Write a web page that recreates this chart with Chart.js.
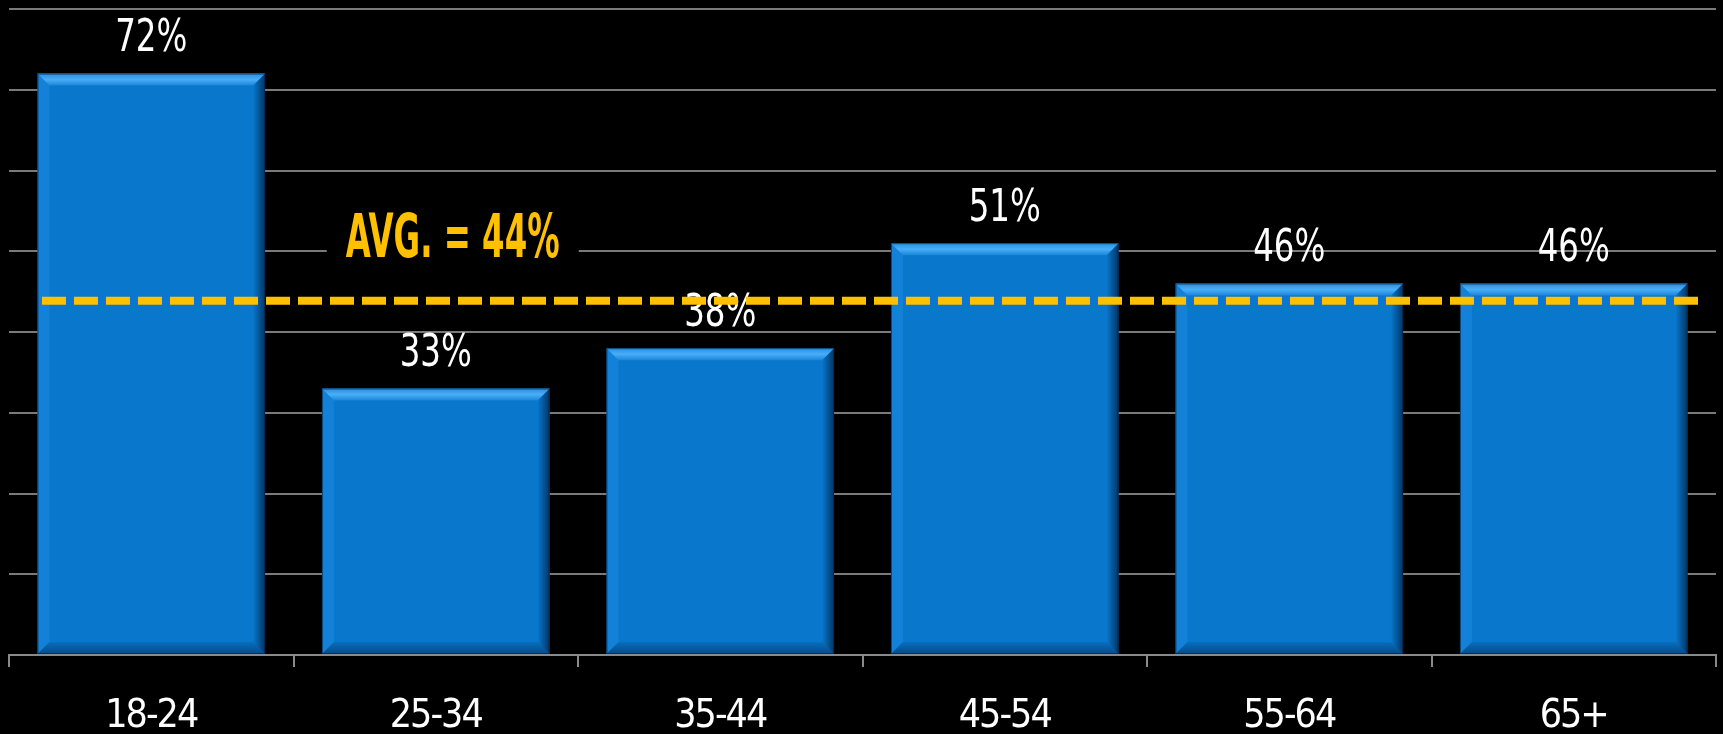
<!DOCTYPE html>
<html lang="en">
<head>
  <meta charset="UTF-8" />
  <title>Share by age group</title>
  <script src="https://cdn.jsdelivr.net/npm/chart.js"></script>
  <style>
    html, body {
      margin: 0;
      padding: 0;
      background: #000;
    }
    .chart-box {
      width: 1723px;
      height: 734px;
    }
  </style>
</head>
<body>
  <div class="chart-box">
    <canvas id="age-chart"></canvas>
  </div>

  <script>
    const ageGroups = ['18-24', '25-34', '35-44', '45-54', '55-64', '65+'];
    const shares = [72, 33, 38, 51, 46, 46];
    const averageShare = 44;
    const averageLabel = 'AVG. = 44%';
    const yMax = 80;
    const yStep = 10;

    const FONT = "'DejaVu Sans Condensed', 'Liberation Sans Narrow', sans-serif";

    // tighter letters for the axis labels (the original face is very narrow)
    const tightText = {
      id: 'tightText',
      beforeDraw(chart) { chart.ctx.letterSpacing = '-2px'; },
      afterDraw(chart) { chart.ctx.letterSpacing = '0px'; }
    };

    // bevelled look on each bar, drawn over the plain fill
    const bevelBars = {
      id: 'bevelBars',
      afterDatasetsDraw(chart) {
        const ctx = chart.ctx;
        const b = 12;
        chart.getDatasetMeta(0).data.forEach(bar => {
          const { x, y, base, width } = bar.getProps(['x', 'y', 'base', 'width'], true);
          const l = x - width / 2, r = x + width / 2, t = y, bt = base;
          ctx.save();

          // left side
          ctx.fillStyle = 'rgba(40, 150, 235, 0.35)';
          ctx.beginPath();
          ctx.moveTo(l, t); ctx.lineTo(l + b, t + b); ctx.lineTo(l + b, bt - b); ctx.lineTo(l, bt);
          ctx.closePath(); ctx.fill();

          // right side shadow
          let g = ctx.createLinearGradient(r - b, 0, r, 0);
          g.addColorStop(0, 'rgba(0, 25, 55, 0)');
          g.addColorStop(1, 'rgba(0, 25, 55, 0.7)');
          ctx.fillStyle = g;
          ctx.beginPath();
          ctx.moveTo(r, t); ctx.lineTo(r - b, t + b); ctx.lineTo(r - b, bt - b); ctx.lineTo(r, bt);
          ctx.closePath(); ctx.fill();

          // bottom
          g = ctx.createLinearGradient(0, bt - b, 0, bt);
          g.addColorStop(0, 'rgba(0, 30, 70, 0.1)');
          g.addColorStop(1, 'rgba(0, 30, 70, 0.5)');
          ctx.fillStyle = g;
          ctx.beginPath();
          ctx.moveTo(l, bt); ctx.lineTo(l + b, bt - b); ctx.lineTo(r - b, bt - b); ctx.lineTo(r, bt);
          ctx.closePath(); ctx.fill();

          // top
          g = ctx.createLinearGradient(0, t, 0, t + b);
          g.addColorStop(0, '#2a8fe0');
          g.addColorStop(0.5, '#48aef8');
          g.addColorStop(1, '#1c85d8');
          ctx.fillStyle = g;
          ctx.beginPath();
          ctx.moveTo(l, t); ctx.lineTo(r, t); ctx.lineTo(r - b, t + b); ctx.lineTo(l + b, t + b);
          ctx.closePath(); ctx.fill();

          ctx.strokeStyle = 'rgba(2, 30, 60, 0.6)';
          ctx.lineWidth = 1;
          ctx.strokeRect(l + 0.5, t + 0.5, width - 1, bt - t - 1);
          ctx.restore();
        });
      }
    };

    // value labels, then the average line and its caption
    const labelsAndAverage = {
      id: 'labelsAndAverage',
      afterDatasetsDraw(chart) {
        const ctx = chart.ctx;
        const area = chart.chartArea;
        const xs = chart.scales.x;
        const ys = chart.scales.y;

        ctx.save();
        ctx.letterSpacing = '0px';
        ctx.fillStyle = '#ffffff';
        ctx.font = '44px ' + FONT;
        ctx.textAlign = 'center';
        ctx.textBaseline = 'middle';
        chart.getDatasetMeta(0).data.forEach((bar, i) => {
          ctx.save();
          ctx.translate(bar.x, bar.y - 34);
          ctx.scale(0.82, 1);
          ctx.fillText(shares[i] + '%', 0, 0);
          ctx.restore();
        });

        // caption with a black patch behind it
        const avgY = ys.getPixelForValue(averageShare);
        const capX = xs.getPixelForValue(1) + 17;
        const capY = avgY - 60;
        ctx.fillStyle = '#000';
        ctx.fillRect(capX - 126, capY - 30, 252, 58);
        ctx.translate(capX, capY);
        ctx.scale(0.6, 1);
        ctx.font = 'bold 60px ' + FONT;
        ctx.fillStyle = '#ffc000';
        ctx.fillText(averageLabel, 0, 2);
        ctx.restore();

        ctx.save();
        ctx.strokeStyle = '#ffc000';
        ctx.lineWidth = 8;
        ctx.setLineDash([24, 8]);
        ctx.beginPath();
        ctx.moveTo(area.left + 33, avgY + 1);
        ctx.lineTo(area.right - 18, avgY + 1);
        ctx.stroke();
        ctx.restore();
      }
    };

    new Chart(document.getElementById('age-chart'), {
      type: 'bar',
      data: {
        labels: ageGroups,
        datasets: [{
          data: shares,
          backgroundColor: '#0877cc',
          borderWidth: 0,
          barPercentage: 0.8,
          categoryPercentage: 1
        }]
      },
      options: {
        responsive: true,
        maintainAspectRatio: false,
        animation: false,
        layout: { padding: { left: 9, right: 7, top: 9, bottom: 0 } },
        plugins: {
          legend: { display: false },
          tooltip: { enabled: false }
        },
        scales: {
          x: {
            offset: true,
            afterFit(scale) { scale.height = 79; },
            border: { display: true, color: '#8a8a8a', width: 2 },
            grid: {
              offset: true,
              drawOnChartArea: false,
              drawTicks: true,
              tickLength: 12,
              color: '#8a8a8a',
              lineWidth: 2
            },
            ticks: {
              color: '#ffffff',
              padding: 30,
              font: { family: FONT, size: 39, lineHeight: 1 }
            }
          },
          y: {
            min: 0,
            max: yMax,
            border: { display: false },
            grid: { color: '#7a7a7a', lineWidth: 2, drawTicks: false },
            ticks: { display: false, stepSize: yStep }
          }
        }
      },
      plugins: [tightText, bevelBars, labelsAndAverage]
    });
  </script>
</body>
</html>
